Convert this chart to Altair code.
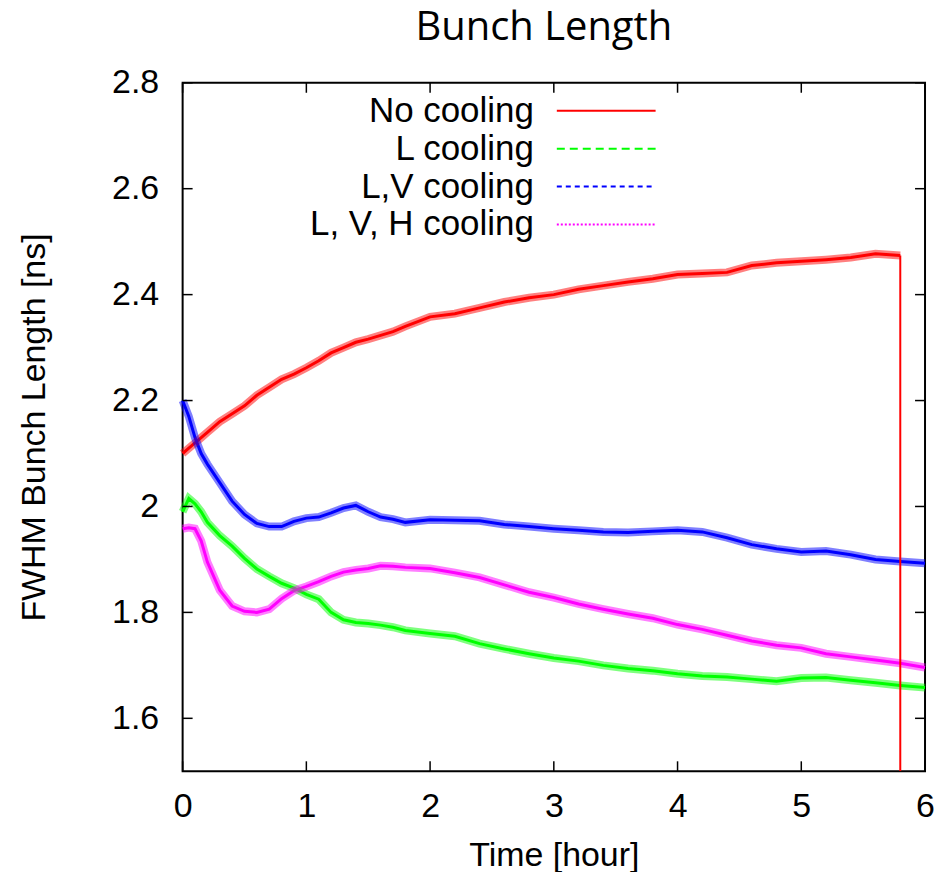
import altair as alt
import pandas as pd

# ---- data ----
time_h = [0, 0.05, 0.1, 0.15, 0.2, 0.3, 0.4, 0.5, 0.6, 0.7, 0.8, 0.9, 1.0, 1.1, 1.2, 1.3,
          1.4, 1.5, 1.6, 1.7, 1.8, 2.0, 2.2, 2.4, 2.6, 2.8, 3.0, 3.2, 3.4, 3.6, 3.8, 4.0,
          4.2, 4.4, 4.6, 4.8, 5.0, 5.2, 5.4, 5.6, 5.8, 6.0]

no_cooling = [2.10, 2.11, 2.12, 2.13, 2.14, 2.16, 2.175, 2.19, 2.21, 2.225, 2.24, 2.25, 2.262,
              2.275, 2.29, 2.30, 2.31, 2.316, 2.323, 2.33, 2.34, 2.358, 2.364, 2.375, 2.386,
              2.394, 2.40, 2.41, 2.417, 2.424, 2.43, 2.438, 2.44, 2.442, 2.455, 2.46, 2.463,
              2.466, 2.47, 2.477, 2.474, None]

l_cooling = [1.99, 2.015, 2.005, 1.99, 1.97, 1.945, 1.925, 1.902, 1.882, 1.868, 1.855, 1.846,
             1.834, 1.825, 1.80, 1.786, 1.781, 1.779, 1.776, 1.772, 1.766, 1.76, 1.755, 1.741,
             1.731, 1.722, 1.714, 1.708, 1.70, 1.694, 1.69, 1.684, 1.68, 1.678, 1.674, 1.67,
             1.676, 1.677, 1.672, 1.667, 1.662, 1.658]

lv_cooling = [2.20, 2.17, 2.13, 2.10, 2.08, 2.045, 2.01, 1.985, 1.968, 1.962, 1.962, 1.972,
              1.978, 1.98, 1.988, 1.997, 2.002, 1.99, 1.98, 1.976, 1.97, 1.975, 1.974, 1.973,
              1.966, 1.962, 1.958, 1.955, 1.952, 1.951, 1.953, 1.955, 1.952, 1.941, 1.928,
              1.92, 1.914, 1.916, 1.909, 1.90, 1.896, 1.893]

lvh_cooling = [1.958, 1.96, 1.958, 1.935, 1.895, 1.842, 1.812, 1.802, 1.80, 1.806, 1.826,
               1.841, 1.849, 1.858, 1.868, 1.876, 1.88, 1.883, 1.888, 1.887, 1.885, 1.883,
               1.875, 1.866, 1.852, 1.838, 1.828, 1.816, 1.806, 1.797, 1.789, 1.777, 1.768,
               1.757, 1.746, 1.738, 1.733, 1.722, 1.716, 1.71, 1.704, 1.696]

# beam loss at the end of the "No cooling" run
drop_time = [5.8, 5.8]
drop_value = [2.474, 1.5]

series_names = ["No cooling", "L cooling", "L,V cooling", "L, V, H cooling"]
series_colors = ["#ff0000", "#00ff00", "#0000ff", "#ff00ff"]
legend_dashes = [[1, 0], [8, 5], [5, 4], [2, 2]]

x_ticks = [0, 1, 2, 3, 4, 5, 6]
y_ticks = [1.6, 1.8, 2.0, 2.2, 2.4, 2.6, 2.8]

# ---- tables ----
rows = []
for name, vals in zip(series_names, [no_cooling, l_cooling, lv_cooling, lvh_cooling]):
    for t, v in zip(time_h, vals):
        if v is not None:
            rows.append({"time": t, "value": v, "series": name})
df = pd.DataFrame(rows)
drop_df = pd.DataFrame({"time": drop_time, "value": drop_value})
xt_df = pd.DataFrame({"tick": x_ticks})
yt_df = pd.DataFrame({"tick": y_ticks})
leg_df = pd.DataFrame({"series": series_names})

W, H = 744, 690
FONT = "Liberation Sans"

xs = alt.Scale(domain=[0, 6], nice=False, zero=False)
ys = alt.Scale(domain=[1.5, 2.8], nice=False, zero=False)
cs = alt.Scale(domain=series_names, range=series_colors)

x_axis = alt.Axis(title="Time [hour]", values=x_ticks, format="d", labelFont=FONT,
                  titleFont=FONT, labelFontSize=34, titleFontSize=34, labelPadding=18,
                  titlePadding=15, domain=False, ticks=False, grid=False,
                  labelColor="black", titleColor="black", titleFontWeight="normal",
                  labelFlush=False)
y_axis = alt.Axis(title="FWHM Bunch Length [ns]", values=y_ticks, format="~g",
                  labelFont=FONT, titleFont=FONT, labelFontSize=34, titleFontSize=34,
                  labelPadding=24, titlePadding=60, domain=False, ticks=False,
                  grid=False, labelColor="black", titleColor="black",
                  titleFontWeight="normal", labelFlush=False)

color_enc = alt.Color("series:N", scale=cs, legend=None)

core = alt.Chart(df).mark_line(strokeWidth=3).encode(
    x=alt.X("time:Q", scale=xs, axis=x_axis),
    y=alt.Y("value:Q", scale=ys, axis=y_axis),
    color=color_enc,
    detail="series:N",
)
band = alt.Chart(df).mark_line(strokeWidth=8, opacity=0.5).encode(
    x=alt.X("time:Q", scale=xs, axis=None),
    y=alt.Y("value:Q", scale=ys, axis=None),
    color=color_enc,
    detail="series:N",
)
drop = alt.Chart(drop_df).mark_line(strokeWidth=2, color="#ff0000", clip=True).encode(
    x=alt.X("time:Q", scale=xs, axis=None),
    y=alt.Y("value:Q", scale=ys, axis=None),
)

tick_style = dict(color="black", strokeWidth=1.5)
xt_bottom = alt.Chart(xt_df).mark_rule(**tick_style).encode(
    x=alt.X("tick:Q", scale=xs, axis=None), y=alt.value(H), y2=alt.value(H - 10))
xt_top = alt.Chart(xt_df).mark_rule(**tick_style).encode(
    x=alt.X("tick:Q", scale=xs, axis=None), y=alt.value(0), y2=alt.value(10))
yt_left = alt.Chart(yt_df).mark_rule(**tick_style).encode(
    y=alt.Y("tick:Q", scale=ys, axis=None), x=alt.value(0), x2=alt.value(10))
yt_right = alt.Chart(yt_df).mark_rule(**tick_style).encode(
    y=alt.Y("tick:Q", scale=ys, axis=None), x=alt.value(W - 10), x2=alt.value(W))

leg_y = alt.Y("series:N", sort=series_names,
              scale=alt.Scale(type="point", domain=series_names, range=[28, 142], padding=0),
              axis=None)
leg_text = alt.Chart(leg_df).mark_text(align="right", baseline="middle", fontSize=35,
                                       font=FONT, color="black").encode(
    x=alt.value(352), y=leg_y, text="series:N")
leg_line = alt.Chart(leg_df).mark_rule(strokeWidth=2).encode(
    x=alt.value(375), x2=alt.value(474), y=leg_y, color=color_enc,
    strokeDash=alt.StrokeDash("series:N", scale=alt.Scale(domain=series_names,
                                                          range=legend_dashes), legend=None))

chart = alt.layer(
    core, band, drop, xt_bottom, xt_top, yt_left, yt_right, leg_text, leg_line
).resolve_scale(y="independent").resolve_axis(x="independent", y="independent").properties(
    width=W, height=H,
    title=alt.Title("Bunch Length", font="Open Sans", fontSize=40, fontWeight="normal",
                    anchor="middle", offset=18, dx=-10, color="black"),
    autosize="none",
    padding={"left": 175, "top": 74, "right": 10, "bottom": 100},
).configure_view(stroke="black", strokeWidth=2)

chart.save("out.html", embed_options={"renderer": "svg", "actions": False})
